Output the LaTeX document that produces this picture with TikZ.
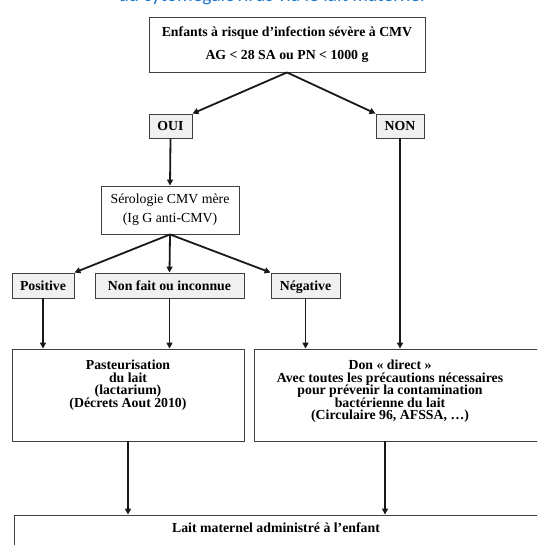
\documentclass[tikz,border=0pt]{standalone}
\usepackage{fontspec}
\setmainfont{Liberation Serif}
\newfontfamily\titlefont{Carlito}
\usetikzlibrary{arrows.meta}
\definecolor{titleblue}{HTML}{1F78D1}
\definecolor{boxgrey}{HTML}{F0F0F0}
\newcommand\mytightlines{\bfseries\fontsize{13.8}{12.5}\selectfont\lineskiplimit -20pt\relax}
\begin{document}
\begin{tikzpicture}[x=1pt,y=-1pt,
  box/.style={draw=black!75, line width=0.9pt, inner sep=0pt, fill=white},
  gbox/.style={box, fill=boxgrey, text height=10pt, text depth=1pt, font=\bfseries\fontsize{13.8}{15}\selectfont},
  arr/.style={line width=1.8pt, draw=black!90, -{Triangle[length=6pt,width=6pt]}},
  sq/.style={anchor=north, inner sep=0pt, align=center, font=\mytightlines}]
\clip (0,0) rectangle (537,545);
\useasboundingbox (0,0) rectangle (537,545);
\node[anchor=base, text=titleblue, inner sep=0pt, font=\titlefont\fontsize{19.5}{21}\selectfont] (title) at (271.5,2) {du cytomégalovirus via le lait maternel};
% boxes
\node[box, minimum width=276pt, minimum height=55pt, align=center, font=\bfseries\fontsize{13.8}{23}\selectfont] (top) at (287,44.5) {Enfants à risque d’infection sévère à CMV\\AG < 28 SA ou PN < 1000 g};
\node[gbox, minimum width=43pt, minimum height=24pt] (oui) at (170.5,126) {OUI};
\node[gbox, minimum width=48pt, minimum height=24pt] (non) at (400,126) {NON};
\node[box, minimum width=138pt, minimum height=48pt, align=center, font=\fontsize{13.8}{19}\selectfont] (sero) at (170,210) {Sérologie CMV mère\\(Ig G anti-CMV)};
\node[gbox, minimum width=62pt, minimum height=25pt] (pos) at (43,285.5) {Positive};
\node[gbox, minimum width=149pt, minimum height=25pt] (nf) at (169.5,285.5) {Non fait ou inconnue};
\node[gbox, minimum width=69pt, minimum height=25pt] (neg) at (305.5,285.5) {Négative};
\node[box, minimum width=232pt, minimum height=92pt] (past) at (128,395) {};
\node[box, minimum width=291pt, minimum height=92pt] (don) at (399.5,395) {};
\node[box, minimum width=531pt, minimum height=45pt] (bot) at (279.5,537.5) {};
% texts of the boxes with tight lines
\node[sq] (pastt) at (128,360) {Pasteurisation\\du lait\\(lactarium)\\(Décrets Aout 2010)};
\node[sq] (dont) at (390,360) {Don « direct »\\Avec toutes les précautions nécessaires\\pour prévenir la contamination\\bactérienne du lait\\(Circulaire 96, AFSSA, \dots)};
\node[sq] (bott) at (276,523) {Lait maternel administré à l’enfant};
% arrows
\draw[arr] (top.south) -- (oui.north east);
\draw[arr] (top.south) -- (non.north west);
\draw[arr] (oui.south) -- (sero.north);
\draw[arr] (sero.south) -- (pos.north east);
\draw[arr] (sero.south) -- (nf.north);
\draw[arr] (sero.south) -- (neg.north west);
\draw[arr] (pos.south) -- (pos.south |- past.north);
\draw[arr] (nf.south) -- (nf.south |- past.north);
\draw[arr] (neg.south) -- (neg.south |- don.north);
\draw[arr] (non.south) -- (non.south |- don.north);
\draw[arr] (past.south) -- (past.south |- bot.north);
\draw[arr] ([xshift=-14.5pt]don.south) -- ([xshift=-14.5pt]don.south |- bot.north);
\end{tikzpicture}
\end{document}
